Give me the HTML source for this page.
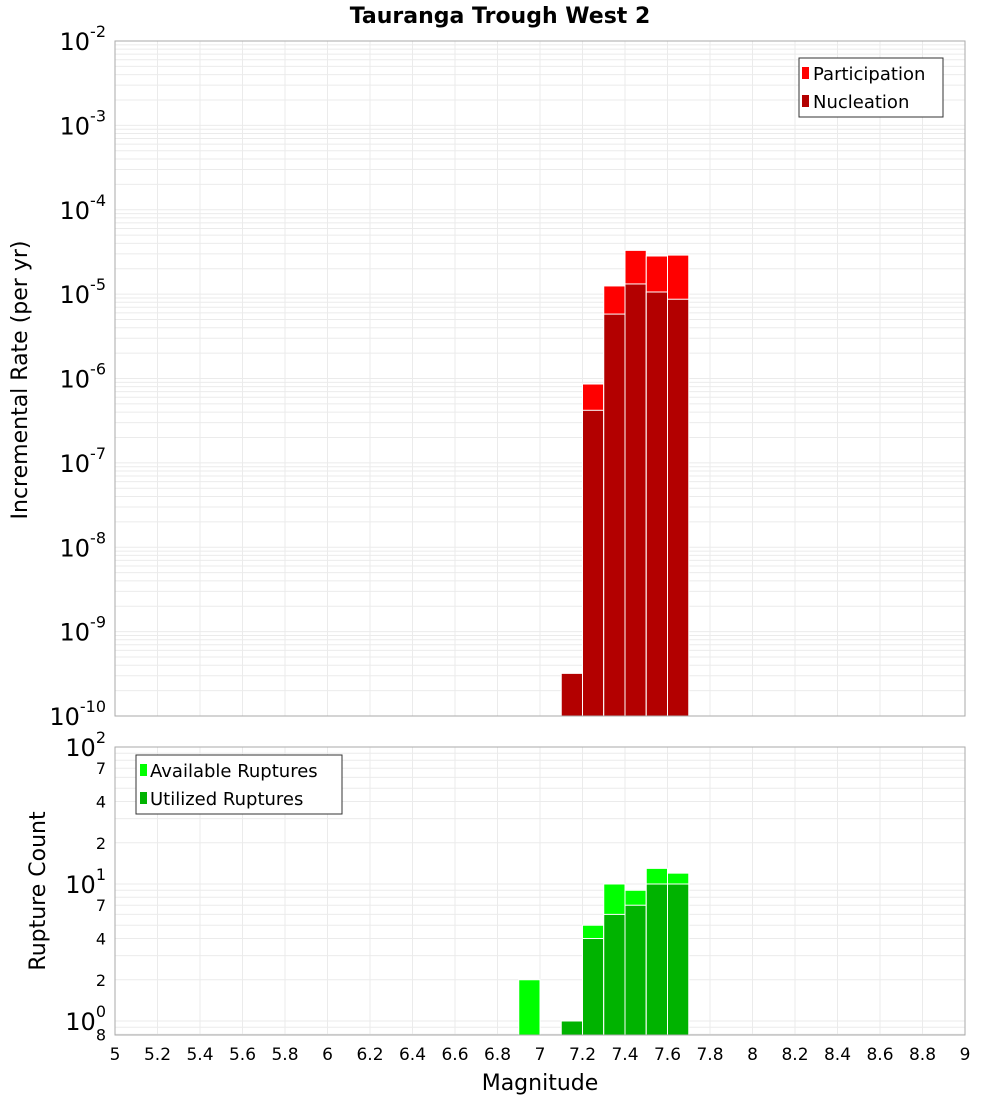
<!DOCTYPE html>
<html><head><meta charset="utf-8"><style>
body{margin:0;background:#fff}
svg{font-family:"DejaVu Sans","Liberation Sans",sans-serif}
</style></head><body>
<svg id="c" width="1000" height="1100"></svg>
<script>
const mags=[6.95,7.15,7.25,7.35,7.45,7.55,7.65];
const participation=[0,3.2e-10,8.6e-7,1.25e-5,3.3e-5,2.83e-5,2.9e-5];
const nucleation=[0,3.2e-10,4.2e-7,5.8e-6,1.32e-5,1.06e-5,8.7e-6];
const available=[2,1,5,10,9,13,12];
const utilized=[0,1,4,6,7,10,10];
const xTicks=[5,5.2,5.4,5.6,5.8,6,6.2,6.4,6.6,6.8,7,7.2,7.4,7.6,7.8,8,8.2,8.4,8.6,8.8,9];
const topExps=[-2,-3,-4,-5,-6,-7,-8,-9,-10];
const botMinor=[{v:70,t:'7'},{v:40,t:'4'},{v:20,t:'2'},{v:7,t:'7'},{v:4,t:'4'},{v:2,t:'2'},{v:0.8,t:'8'}];

const S='http://www.w3.org/2000/svg',svg=document.getElementById('c');
function el(tag,a,parent,txt){const e=document.createElementNS(S,tag);for(const k in a)e.setAttribute(k,a[k]);if(txt!==undefined)e.textContent=txt;(parent||svg).appendChild(e);return e;}
const L=115,R=965,T1=41,B1=716,T2=747,B2=1035;
const x=m=>L+(m-5)/4*(R-L);
const y1=v=>T1+(-2-Math.log10(v))*(B1-T1)/8;
const y2=v=>T2+(2-Math.log10(v))*137;
const bw=(R-L)/40;

// title
let t=el('text',{x:500,y:23,'text-anchor':'middle','font-size':22,'font-weight':'bold'},svg,'Tauranga Trough West 2');


function grid(g,T,B,yf,lo,hi){
  for(const m of xTicks){el('line',{x1:x(m),x2:x(m),y1:T,y2:B,stroke:'#ebebeb'},g);}
  for(let e=lo;e<hi;e++)for(let k=1;k<10;k++){const v=k*Math.pow(10,e);const yy=yf(v);if(yy>=T&&yy<=B)el('line',{x1:L,x2:R,y1:yy,y2:yy,stroke:'#ebebeb'},g);}
}
// top plot
const g1=el('g',{});
grid(g1,T1,B1,y1,-10,-1);
mags.forEach((m,i)=>{
  if(participation[i]>0){const r=el('rect',{x:x(m)-bw/2,y:y1(participation[i]),width:bw,height:B1-y1(participation[i]),fill:'#ff0000',stroke:'#fff','stroke-width':1},g1);}
  if(nucleation[i]>0){const r=el('rect',{x:x(m)-bw/2,y:y1(nucleation[i]),width:bw,height:B1-y1(nucleation[i]),fill:'#b30000',stroke:'#fff','stroke-width':1},g1);}
});
el('rect',{x:L,y:T1,width:R-L,height:B1-T1,fill:'none',stroke:'#aaa'},g1);
topExps.forEach(e=>{const yy=y1(Math.pow(10,e));const tx=el('text',{x:106,y:yy+9,'text-anchor':'end','font-size':24},g1);
  el('tspan',{},tx,'10');el('tspan',{dy:-13,'font-size':16},tx,String(e));});
el('text',{x:27,y:380,'text-anchor':'middle','font-size':22,transform:'rotate(-90 27 380)'},g1,'Incremental Rate (per yr)');
// legend top
const lg=el('g',{});
el('rect',{x:799,y:58,width:144,height:59,fill:'#fff',stroke:'#333'},lg);
el('rect',{x:802,y:67,width:7,height:12,fill:'#ff0000'},lg);el('text',{x:813,y:80,'font-size':18},lg,'Participation');
el('rect',{x:802,y:95,width:7,height:12,fill:'#b30000'},lg);el('text',{x:813,y:108,'font-size':18},lg,'Nucleation');

// bottom plot
const g2=el('g',{});
grid(g2,T2,B2,y2,-1,2);
mags.forEach((m,i)=>{
  if(available[i]>0){const r=el('rect',{x:x(m)-bw/2,y:y2(available[i]),width:bw,height:B2-y2(available[i]),fill:'#00ff00',stroke:'#fff','stroke-width':1},g2);}
  if(utilized[i]>0){const r=el('rect',{x:x(m)-bw/2,y:y2(utilized[i]),width:bw,height:B2-y2(utilized[i]),fill:'#00b300',stroke:'#fff','stroke-width':1},g2);}
});
el('rect',{x:L,y:T2,width:R-L,height:B2-T2,fill:'none',stroke:'#aaa'},g2);
[2,1,0].forEach(e=>{const yy=y2(Math.pow(10,e));const tx=el('text',{x:106,y:yy+9,'text-anchor':'end','font-size':24},g2);
  el('tspan',{},tx,'10');el('tspan',{dy:-13,'font-size':16},tx,String(e));});
botMinor.forEach(o=>{el('text',{x:106,y:y2(o.v)+6,'text-anchor':'end','font-size':16},g2,o.t);});
el('text',{x:45,y:891,'text-anchor':'middle','font-size':22,transform:'rotate(-90 45 891)'},g2,'Rupture Count');
const lg2=el('g',{});
el('rect',{x:136,y:755,width:206,height:59,fill:'#fff',stroke:'#333'},lg2);
el('rect',{x:140,y:764,width:7,height:12,fill:'#00ff00'},lg2);el('text',{x:150,y:777,'font-size':18},lg2,'Available Ruptures');
el('rect',{x:140,y:792,width:7,height:12,fill:'#00b300'},lg2);el('text',{x:150,y:805,'font-size':18},lg2,'Utilized Ruptures');

// x axis
xTicks.forEach(m=>{el('text',{x:x(m),y:1060,'text-anchor':'middle','font-size':17},svg,String(m));});
el('text',{x:540,y:1090,'text-anchor':'middle','font-size':22},svg,'Magnitude');
</script>
</body></html>
